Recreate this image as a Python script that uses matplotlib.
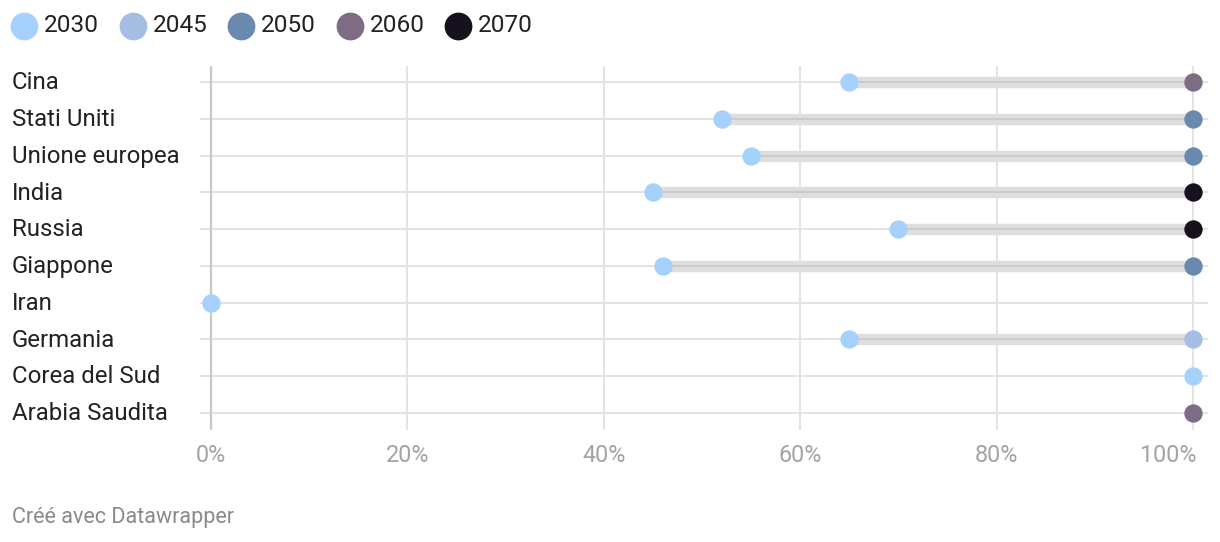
import matplotlib
matplotlib.use("Agg")
import matplotlib.pyplot as plt
from matplotlib.lines import Line2D
from matplotlib.transforms import blended_transform_factory
import numpy as np

plt.rcParams['font.family'] = ['Roboto', 'DejaVu Sans']

countries = ["Cina", "Stati Uniti", "Unione europea", "India", "Russia",
             "Giappone", "Iran", "Germania", "Corea del Sud", "Arabia Saudita"]
# value of the 2030 dot (None = no 2030 dot)
start_2030 = [65, 52, 55, 45, 70, 46, 0, 65, 100, None]
# target year of the end dot at 100% (None = no end dot)
target_year = ["2060", "2050", "2050", "2070", "2070", "2050", None, "2045", None, "2060"]
target_value = [100, 100, 100, 100, 100, 100, None, 100, None, 100]

years = ["2030", "2045", "2050", "2060", "2070"]
year_colors = {"2030": "#a6d1fc", "2045": "#a4bee4", "2050": "#6a89ae",
               "2060": "#7e6c85", "2070": "#17101e"}
xticks = [0, 20, 40, 60, 80, 100]
xtick_labels = ["0%", "20%", "40%", "60%", "80%", "100%"]

W, H = 1220, 542
fig = plt.figure(figsize=(W / 100, H / 100), dpi=100)
# axes spans px 200..1208 horizontally, 66..430 vertically
ax = fig.add_axes([200 / W, 1 - 430 / H, 1008 / W, 364 / H])
px_per = 982 / 100.0
ax.set_xlim(-11 / px_per, 100 + 15 / px_per)
n = len(countries)
sp = (413 - 82) / (n - 1)
ax.set_ylim(n - 1 + 17 / sp, -16 / sp)
ax.axis('off')

ypos = np.arange(n)
# horizontal grid lines
for y in ypos:
    ax.plot([-11 / px_per, 100 + 15 / px_per], [y, y], color="#e3e3e3", lw=1.4,
            zorder=1, solid_capstyle='butt')
# vertical grid lines
for t in xticks:
    ax.axvline(t, color="#c8c8c8" if t == 0 else "#e3e3e3", lw=1.6 if t == 0 else 1.4,
               zorder=1)

for i, y in enumerate(ypos):
    s = start_2030[i]
    e = target_value[i]
    if s is not None and e is not None:
        ax.plot([s, e], [y, y], color="#dedede", lw=8.2, zorder=2, solid_capstyle='butt')
        ax.plot([s, e], [y, y], color="#cbcbcb", lw=1.4, zorder=2.5, solid_capstyle='butt')
    if s is not None:
        ax.scatter([s], [y], s=175, color=year_colors["2030"], zorder=4, linewidths=0)
    if e is not None:
        ax.scatter([e], [y], s=175, color=year_colors[target_year[i]], zorder=4, linewidths=0)

# country labels
tr = blended_transform_factory(fig.transFigure, ax.transData)
for i, c in enumerate(countries):
    ax.text(12 / W, ypos[i] + 0.02, c, transform=tr, ha='left', va='center',
            fontsize=17.3, color="#222222")

# x tick labels
trx = blended_transform_factory(ax.transData, fig.transFigure)
for k, (t, lab) in enumerate(zip(xticks, xtick_labels)):
    last = k == len(xticks) - 1
    ax.text(t + (3 / px_per if last else 0), 1 - 455 / H, lab, transform=trx,
            ha='right' if last else 'center', va='center',
            fontsize=16.8, color="#a3a3a3")

# legend (manual)
for k, yr in enumerate(years):
    cx = 24 + 108.5 * k
    fig.add_artist(Line2D([cx / W], [1 - 26 / H], marker='o', linestyle='',
                          markersize=20, markerfacecolor=year_colors[yr],
                          markeredgewidth=0, transform=fig.transFigure))
    fig.text((cx + 20) / W, 1 - 26 / H, yr, ha='left', va='center',
             fontsize=17.6, color="#222222")

fig.text(12 / W, 1 - 517 / H, "Créé avec Datawrapper", ha='left', va='center',
         fontsize=15.5, color="#8a8a8a")

fig.savefig("out.png", dpi=100)
